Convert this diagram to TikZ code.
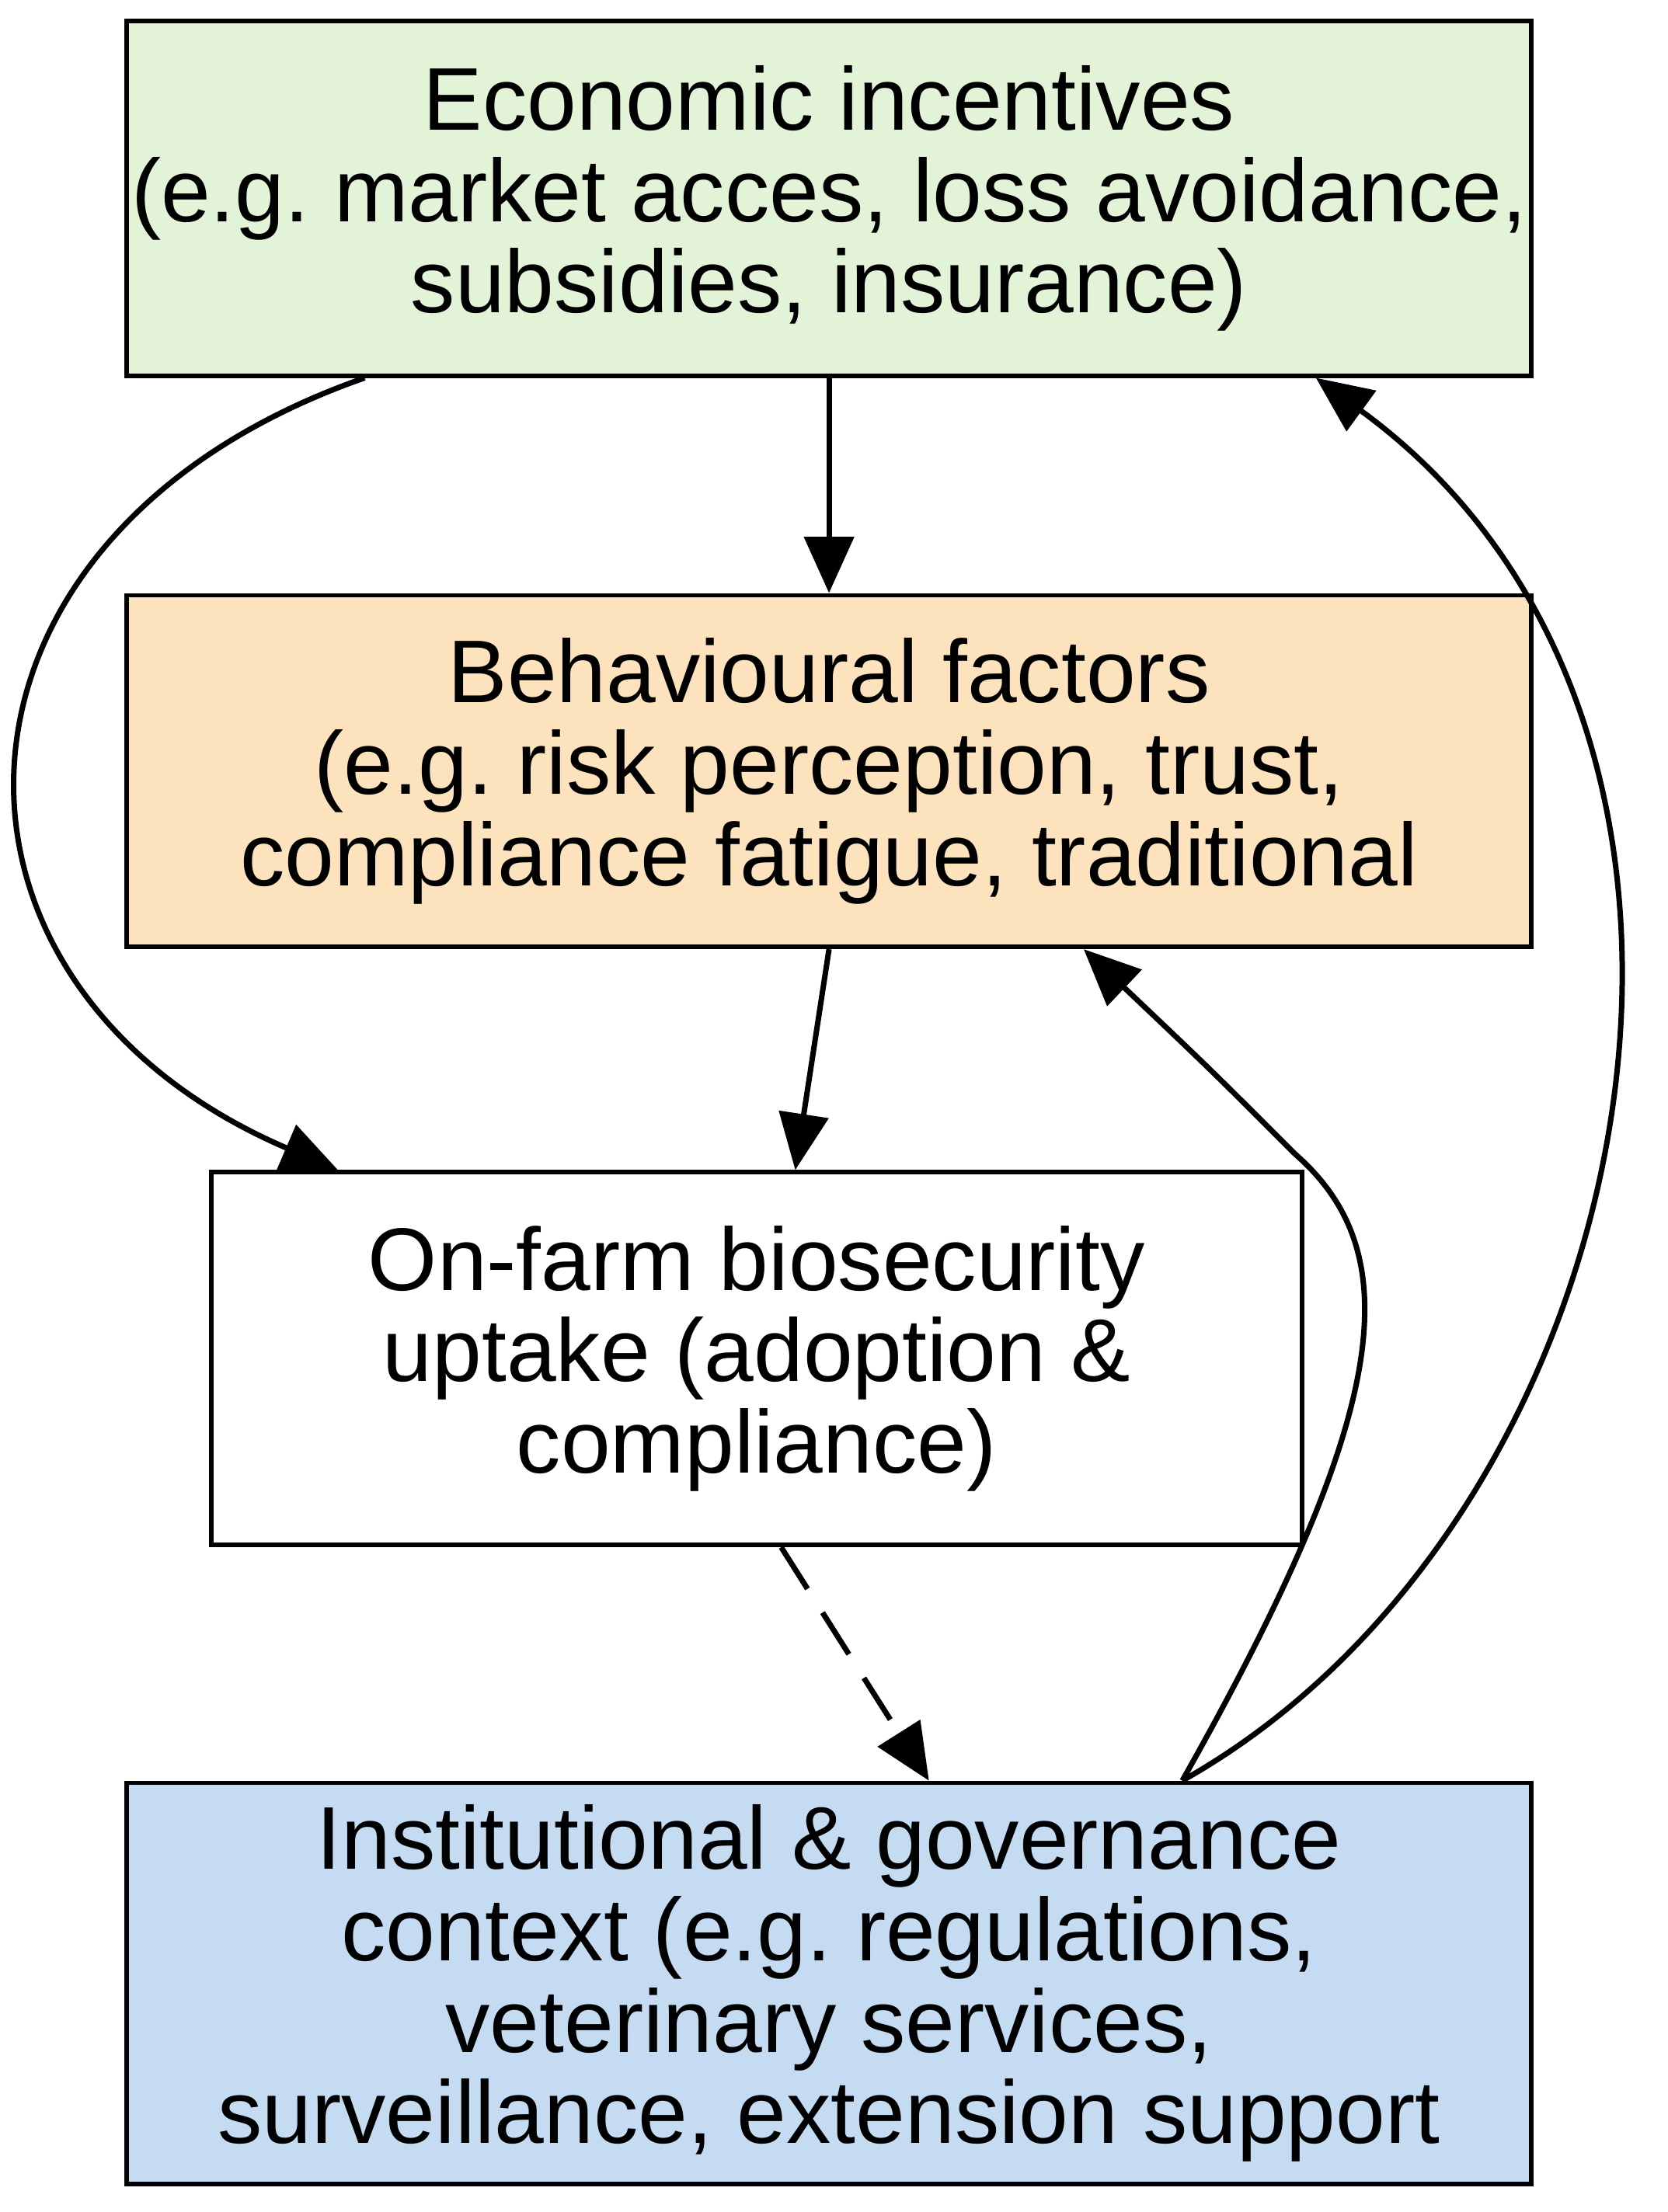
\documentclass[tikz,border=0pt]{standalone}
\usepackage{fontspec}
\setmainfont{Liberation Sans}
\usetikzlibrary{arrows.meta}
\definecolor{econgreen}{HTML}{E2F3D8}
\definecolor{behavorange}{HTML}{FCE3BE}
\definecolor{instblue}{HTML}{C5DBF1}
\tikzset{
  factor/.style={draw, line width=1.8pt, align=center, minimum width=19.96cm, inner xsep=1pt,
    font=\fontsize{36}{37}\selectfont\frenchspacing},
  link/.style={line width=2.2pt, -{Triangle[length=0.8cm, width=0.7cm]}},
}
\begin{document}
\begin{tikzpicture}[x=0.02cm,y=-0.02cm]
  \useasboundingbox (0,0) rectangle (1185,1572);
  \node[factor, fill=econgreen, minimum height=5.04cm] (econ) at (589,141)
    {Economic incentives\\ (e.g. market acces, loss avoidance,\\ subsidies, insurance)};
  \node[factor, fill=behavorange, minimum height=5cm] (behav) at (589,548)
    {Behavioural factors\\ (e.g. risk perception, trust,\\ compliance fatigue, traditional};
  \node[factor, fill=white, minimum width=15.5cm, minimum height=5.3cm] (farm) at (537.5,965.5)
    {On-farm biosecurity\\ uptake (adoption \&\\ compliance)};
  \node[factor, fill=instblue, minimum height=5.7cm] (inst) at (589,1409.5)
    {Institutional \& governance\\ context (e.g. regulations,\\ veterinary services,\\ surveillance, extension support};
  % arrows between factors
  \draw[link] (econ.south) -- (behav.north);
  \draw[link] ([xshift=-6.6cm]econ.south) .. controls (-60,380) and (-67,700) .. ([xshift=-5.95cm]farm.north);
  \draw[link] (behav.south) -- ([xshift=0.55cm]farm.north);
  \draw[link, dash pattern=on 0.7cm off 0.4cm] ([xshift=0.35cm]farm.south) -- ([xshift=1.42cm]inst.north);
  % feedback from institutions
  \coordinate (bend) at (920,820);
  \draw[line width=2.2pt] ([xshift=5.02cm]inst.north) .. controls (990,1000) and (1000,890) .. (bend);
  \draw[link] (bend) .. controls (860,760) .. ([xshift=3.62cm]behav.south);
  \draw[link] ([xshift=5.02cm]inst.north) .. controls (1170,1080) and (1280,520) .. ([xshift=6.92cm]econ.south);
\end{tikzpicture}
\end{document}
